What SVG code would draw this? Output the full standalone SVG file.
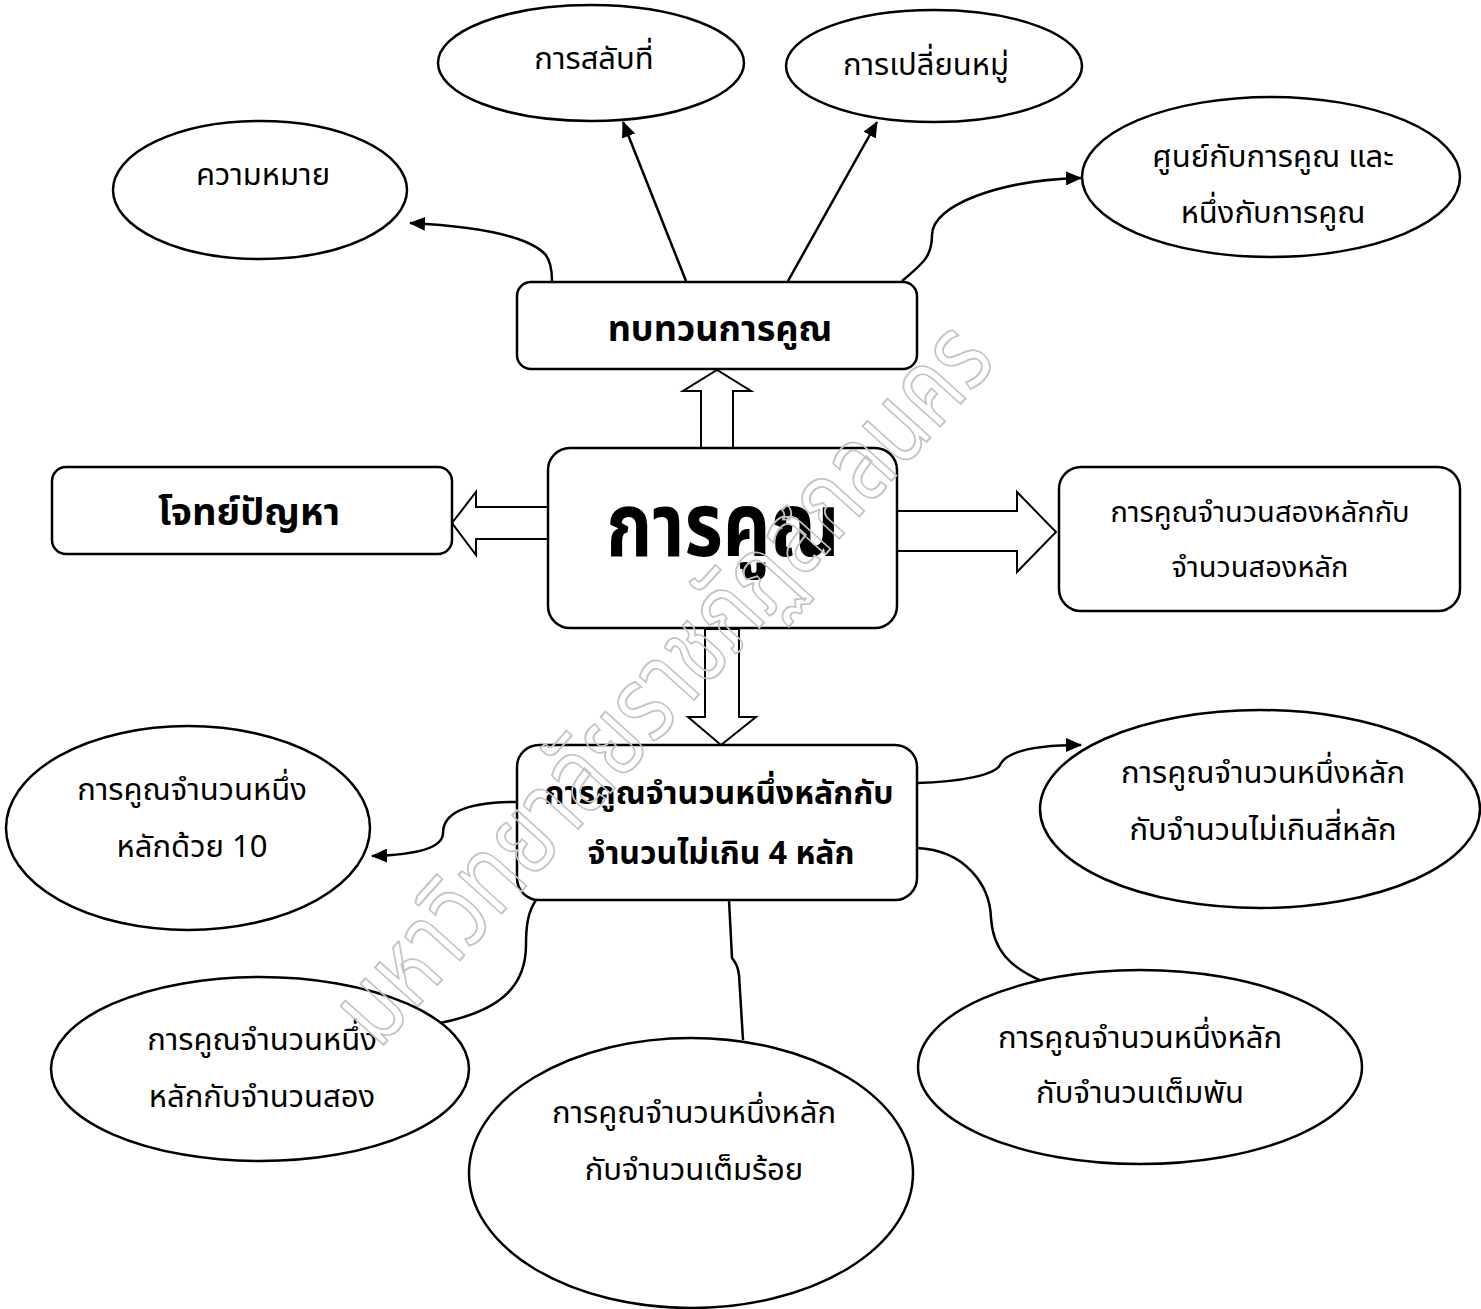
<svg xmlns="http://www.w3.org/2000/svg" width="1481" height="1309" viewBox="0 0 1481 1309">
<style>
.shape{fill:#fff;stroke:#000;stroke-width:2.5}
.t{font-family:"Noto Sans Thai","Noto Sans","DejaVu Sans",sans-serif;font-size:31px;fill:#000;text-anchor:middle}
.b{font-weight:bold;font-size:32px}
.b36{font-weight:bold;font-size:36px}
.b38{font-weight:bold;font-size:38px}
.big{font-weight:bold;font-size:88px}
.c{fill:none;stroke:#000;stroke-width:2.5}
.h{fill:#fff;stroke:#000;stroke-width:2}
.wm{font-family:"Noto Sans Thai","Noto Sans",sans-serif;font-size:98px;fill:none;stroke:#c4c4c4;stroke-width:1.8;text-anchor:middle}
</style>
<defs>
<marker id="ah" markerWidth="16" markerHeight="14" refX="15" refY="7" orient="auto" markerUnits="userSpaceOnUse">
<path d="M0,0 L16,7 L0,14 Z" fill="#000"/>
</marker>
</defs>
<rect width="1481" height="1309" fill="#fff"/>

<g id="connectors">
<path class="c" d="M552,281 C552,268 550,260 545,254 C525,234 470,226 410,223" marker-end="url(#ah)"/>
<path class="c" d="M686,281 L623,122" marker-end="url(#ah)"/>
<path class="c" d="M788,281 L877,122" marker-end="url(#ah)"/>
<path class="c" d="M902,281 C925,262 932,255 932,235 C932,205 1000,180 1081,178" marker-end="url(#ah)"/>
<path class="c" d="M517,802 C470,802 443,812 443,833 C443,850 410,855 372,856" marker-end="url(#ah)"/>
<path class="c" d="M917,783 C960,782 995,775 1000,765 C1008,748 1050,745 1081,745" marker-end="url(#ah)"/>
<path class="c" d="M917,848 C965,850 990,885 991,918 C993,950 1010,968 1044,982"/>
<path class="c" d="M536,900 C528,912 526,925 526,945 C526,990 495,1012 440,1023"/>
<path class="c" d="M729,900 L732,958 Q738,965 739,975 L743,1040"/>
<path class="h" d="M701,448 L701,391 L683,391 L717,370 L751,391 L733,391 L733,448"/>
<path class="h" d="M548,507 L476,507 L476,492 L452,523 L476,555 L476,539 L548,539"/>
<path class="h" d="M897,511 L1017,511 L1017,492 L1056,532 L1017,572 L1017,551 L897,551"/>
<path class="h" d="M705,629 L705,717 L688,717 L721,745 L756,717 L739,717 L739,629 Z"/>
</g>

<g id="n-meaning"><ellipse class="shape" cx="260" cy="190" rx="147" ry="69"/><text class="t" x="263" y="185">ความหมาย</text></g>
<g id="n-swap"><ellipse class="shape" cx="591" cy="63" rx="153" ry="58"/><text class="t" x="594" y="69">การสลับที่</text></g>
<g id="n-assoc"><ellipse class="shape" cx="934" cy="66" rx="148" ry="56"/><text class="t" x="926" y="75">การเปลี่ยนหมู่</text></g>
<g id="n-zero"><ellipse class="shape" cx="1271" cy="177" rx="189" ry="80"/><text class="t" x="1273" y="167">ศูนย์กับการคูณ และ</text><text class="t" x="1273" y="223">หนึ่งกับการคูณ</text></g>
<g id="n-review"><rect class="shape" x="517" y="282" width="400" height="87" rx="14"/><text class="t b36" x="720" y="341">ทบทวนการคูณ</text></g>
<g id="n-problem"><rect class="shape" x="52" y="467" width="400" height="87" rx="14"/><text class="t b38" x="249" y="525">โจทย์ปัญหา</text></g>
<g id="n-main"><rect class="shape" x="548" y="448" width="349" height="180" rx="22"/><text class="t big" x="860.7" y="556" transform="scale(0.84,1)">การคูณ</text></g>
<g id="n-two"><rect class="shape" x="1059" y="467" width="401" height="144" rx="22"/><text class="t" x="1260" y="522" style="font-size:29px">การคูณจำนวนสองหลักกับ</text><text class="t" x="1260" y="577" style="font-size:29px">จำนวนสองหลัก</text></g>
<g id="n-one"><rect class="shape" x="517" y="745" width="400" height="155" rx="22"/><text class="t b" x="719" y="804">การคูณจำนวนหนึ่งหลักกับ</text><text class="t b" x="721" y="864">จำนวนไม่เกิน 4 หลัก</text></g>
<g id="n-ten"><ellipse class="shape" cx="188" cy="828" rx="182" ry="102"/><text class="t" x="192" y="800">การคูณจำนวนหนึ่ง</text><text class="t" x="192" y="857">หลักด้วย 10</text></g>
<g id="n-four"><ellipse class="shape" cx="1260" cy="809" rx="220" ry="99"/><text class="t" x="1263" y="783">การคูณจำนวนหนึ่งหลัก</text><text class="t" x="1263" y="840">กับจำนวนไม่เกินสี่หลัก</text></g>
<g id="n-twodig"><ellipse class="shape" cx="260" cy="1069" rx="209" ry="92"/><text class="t" x="262" y="1050">การคูณจำนวนหนึ่ง</text><text class="t" x="262" y="1107">หลักกับจำนวนสอง</text></g>
<g id="n-hundred"><ellipse class="shape" cx="691" cy="1173" rx="222" ry="135"/><text class="t" x="694" y="1123">การคูณจำนวนหนึ่งหลัก</text><text class="t" x="694" y="1180">กับจำนวนเต็มร้อย</text></g>
<g id="n-thousand"><ellipse class="shape" cx="1140" cy="1067" rx="222" ry="97"/><text class="t" x="1140" y="1048">การคูณจำนวนหนึ่งหลัก</text><text class="t" x="1140" y="1103">กับจำนวนเต็มพัน</text></g>

<text class="wm" x="0" y="30" transform="translate(664,685) rotate(-48) scale(0.86,1.08)">มหาวิทยาลัยราชภัฏสกลนคร</text>
</svg>
